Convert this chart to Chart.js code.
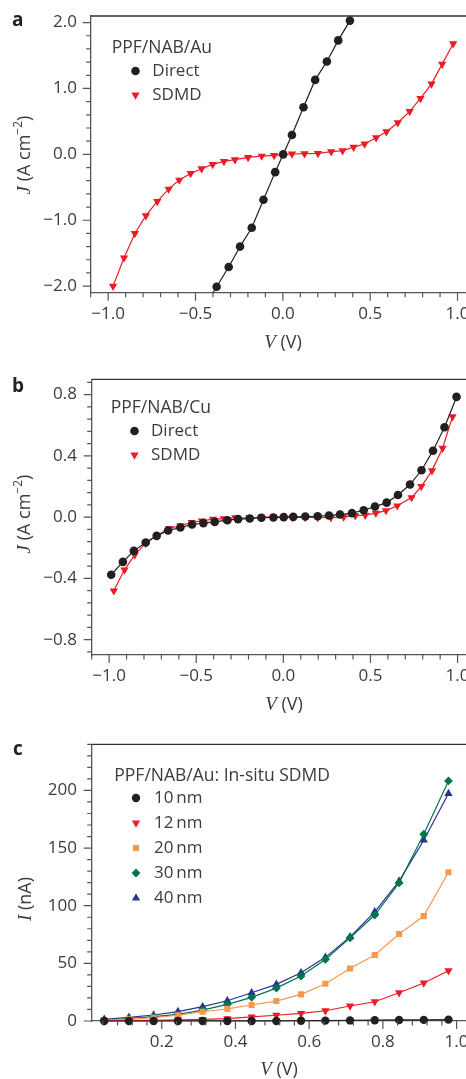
<!DOCTYPE html>
<html>
<head>
<meta charset="utf-8">
<script src="https://cdn.jsdelivr.net/npm/chart.js@4.4.0/dist/chart.umd.min.js"></script>
<style>
  html, body { margin:0; padding:0; background:#fff; overflow:hidden; width:466px; height:1079px; }
  .panel { position:absolute; left:0; width:480px; }
</style>
</head>
<body>
<div class="panel" style="top:0"><canvas id="chartA" width="480" height="360"></canvas></div>
<div class="panel" style="top:360px"><canvas id="chartB" width="480" height="360"></canvas></div>
<div class="panel" style="top:720px"><canvas id="chartC" width="480" height="359"></canvas></div>
<script>
// ── Panel a: PPF/NAB/Au ──
const aDirectV = [-0.445, -0.379, -0.31, -0.245, -0.178, -0.111, -0.044, 0.002, 0.052, 0.118, 0.185, 0.252, 0.317, 0.384];
const aDirectJ = [-2.30, -2.01, -1.71, -1.40, -1.115, -0.69, -0.27, 0.0, 0.293, 0.714, 1.13, 1.41, 1.73, 2.03];
const aSdmdV = [-0.972, -0.909, -0.847, -0.784, -0.719, -0.654, -0.593, -0.528, -0.465, -0.402, -0.337, -0.274, -0.199, -0.121, -0.050,
                0.052, 0.124, 0.201, 0.277, 0.342, 0.405, 0.468, 0.534, 0.593, 0.658, 0.726, 0.788, 0.851, 0.912, 0.975];
const aSdmdJ = [-2.00, -1.57, -1.20, -0.93, -0.715, -0.527, -0.39, -0.29, -0.218, -0.152, -0.106, -0.081, -0.046, -0.026, -0.015,
                0.005, 0.01, 0.015, 0.04, 0.055, 0.11, 0.157, 0.253, 0.344, 0.48, 0.653, 0.85, 1.07, 1.37, 1.68];
const aXTicks = [-1.0, -0.5, 0.0, 0.5, 1.0];
const aYTicks = [-2.0, -1.0, 0.0, 1.0, 2.0];

// ── Panel b: PPF/NAB/Cu ──
const bDirectV = [-0.988, -0.921, -0.858, -0.79, -0.727, -0.662, -0.591, -0.524, -0.459, -0.394, -0.321, -0.26, -0.193, -0.126, -0.057, 0.002,
                  0.057, 0.126, 0.197, 0.262, 0.325, 0.394, 0.461, 0.526, 0.593, 0.658, 0.727, 0.793, 0.859, 0.925, 0.994];
const bDirectJ = [-0.376, -0.292, -0.22, -0.166, -0.122, -0.087, -0.068, -0.048, -0.039, -0.031, -0.02, -0.013, -0.009, -0.004, -0.002, 0.0,
                  0.002, 0.004, 0.006, 0.011, 0.017, 0.026, 0.045, 0.069, 0.095, 0.145, 0.213, 0.306, 0.434, 0.587, 0.785];
const bSdmdV = [-0.973, -0.912, -0.853, -0.79, -0.727, -0.654, -0.591, -0.526, -0.467, -0.404, -0.341, -0.275, -0.195, -0.126, -0.057,
                0.053, 0.126, 0.197, 0.273, 0.346, 0.413, 0.47, 0.531, 0.589, 0.654, 0.736, 0.792, 0.853, 0.914, 0.971];
const bSdmdJ = [-0.481, -0.344, -0.246, -0.17, -0.12, -0.074, -0.055, -0.035, -0.024, -0.013, -0.009, -0.004, -0.004, 0.0, 0.002,
                -0.002, -0.002, -0.002, -0.004, 0.002, 0.009, 0.013, 0.026, 0.043, 0.074, 0.128, 0.2, 0.304, 0.45, 0.656];
const bXTicks = [-1.0, -0.5, 0.0, 0.5, 1.0];
const bYTicks = [-0.8, -0.4, 0.0, 0.4, 0.8];

// ── Panel c: PPF/NAB/Au in-situ SDMD ──
const cV    = [0.044, 0.111, 0.178, 0.244, 0.311, 0.378, 0.444, 0.511, 0.578, 0.644, 0.711, 0.778, 0.844, 0.911, 0.978];
const c10nm = [0, 0, 0, 0, 0, 0, 0, 0, 0.2, 0.3, 0.5, 0.7, 0.9, 1.0, 1.2];
const c12nm = [0.3, 0.4, 0.6, 0.9, 1.4, 2.0, 3.5, 5.0, 6.6, 8.9, 13, 16.7, 24.5, 33, 43.6];
const c20nm = [0.8, 1.6, 2.8, 5.0, 8.0, 10.5, 13.9, 17.3, 23.1, 32.3, 45.6, 57.2, 75.4, 91, 129];
const c30nm = [0.9, 2.0, 3.8, 5.8, 9.5, 14.4, 20.5, 28.5, 39, 53.4, 72.2, 91.9, 119.8, 162, 208.2];
const c40nm = [1.4, 3.2, 5.2, 8.1, 12.4, 17.6, 24.5, 31.8, 41.9, 55.2, 73, 94.7, 121.3, 156.8, 197.3];
const cXTicks = [0.2, 0.4, 0.6, 0.8, 1.0];
const cYTicks = [0, 50, 100, 150, 200];

const SANS = '"Open Sans", "Noto Sans", sans-serif';
const SERIF = '"Liberation Serif", "DejaVu Serif", serif';
const TXT = '#3c3c3c';
const AXIS = '#555';

const pts = (xs, ys) => xs.map((v, i) => ({ x: v, y: ys[i] }));
const minus = s => s.replace('-', '\u2212');
const fmt1 = v => minus(v.toFixed(1));
const fmt0 = v => minus(String(v));

function range(min, max, step){
  const out = [];
  for(let k = Math.ceil(min/step - 1e-6); k*step <= max + 1e-9; k++) out.push(+(k*step).toFixed(6));
  return out;
}

function series(label, data, color, style, radius, rot){
  return {
    label, data,
    borderColor: color, backgroundColor: color,
    borderWidth: 1.2,
    pointStyle: style, pointRadius: radius, pointRotation: rot || 0,
    pointBorderWidth: 0, pointHoverRadius: radius,
    tension: 0
  };
}

// ── Decorations: frame, minor/major ticks, axis titles, legend, panel letter ──
const decor = {
  id: 'decor',
  afterDraw(chart, args, o){
    const { ctx, chartArea: ca, scales: { x, y } } = chart;
    ctx.save();
    ctx.strokeStyle = '#333'; ctx.lineWidth = 1.3;
    ctx.beginPath();
    ctx.moveTo(ca.left, ca.top); ctx.lineTo(ca.right, ca.top); ctx.lineTo(ca.right, ca.bottom);
    ctx.stroke();

    ctx.strokeStyle = AXIS; ctx.lineWidth = 1.2;
    ctx.beginPath();
    range(x.min, x.max, o.xMinor).forEach(v => {
      const px = x.getPixelForValue(v);
      const len = o.xMajor.some(m => Math.abs(m - v) < 1e-6) ? 8 : 4.5;
      ctx.moveTo(px, ca.bottom); ctx.lineTo(px, ca.bottom + len);
    });
    range(y.min, y.max, o.yMinor).forEach(v => {
      const py = y.getPixelForValue(v);
      const len = o.yMajor.some(m => Math.abs(m - v) < 1e-6) ? 8 : 4.5;
      ctx.moveTo(ca.left, py); ctx.lineTo(ca.left - len, py);
    });
    ctx.stroke();

    // axis titles
    ctx.fillStyle = TXT;
    ctx.textBaseline = 'middle';
    const runs = (parts, cx, cy, rotate) => {
      ctx.save();
      ctx.translate(cx, cy);
      if(rotate) ctx.rotate(-Math.PI/2);
      let w = 0;
      parts.forEach(p => { ctx.font = p.f; w += ctx.measureText(p.t).width; });
      let cur = -w/2;
      ctx.textAlign = 'left';
      parts.forEach(p => { ctx.font = p.f; ctx.fillText(p.t, cur, p.dy || 0); cur += ctx.measureText(p.t).width; });
      ctx.restore();
    };
    runs(o.yTitle, o.yTitlePos[0], o.yTitlePos[1], true);
    runs([{ t:'V', f:'italic 19px ' + SERIF }, { t:' (V)', f:'18px ' + SANS }], o.xTitlePos[0], o.xTitlePos[1], false);

    // panel letter
    ctx.font = 'bold 19px ' + SANS;
    ctx.fillStyle = '#222';
    ctx.textAlign = 'left';
    ctx.fillText(o.letter, o.letterPos[0], o.letterPos[1]);

    // legend
    const L = o.legend;
    ctx.fillStyle = TXT;
    ctx.font = '17.5px ' + SANS;
    ctx.fillText(L.title, L.tx, L.ty);
    ctx.font = '17px ' + SANS;
    chart.data.datasets.forEach((ds, i) => {
      const yy = L.y0 + i * L.dy;
      ctx.fillStyle = ds.backgroundColor;
      Chart.helpers.drawPoint(ctx, { pointStyle: ds.pointStyle, radius: ds.pointRadius, rotation: ds.pointRotation, borderWidth: 0 }, L.mx, yy);
      ctx.fillStyle = TXT;
      ctx.fillText(ds.label, L.lx, yy);
    });
    ctx.restore();
  }
};

function makeChart(id, cfg){
  const H = document.getElementById(id).height;
  return new Chart(document.getElementById(id), {
    type: 'line',
    data: { datasets: cfg.datasets },
    options: {
      responsive: false,
      animation: false,
      layout: { padding: { top: cfg.top, right: 5, bottom: 0, left: 0 } },
      plugins: { legend: { display: false }, tooltip: { enabled: false }, decor: cfg.decor },
      scales: {
        x: {
          type: 'linear', min: cfg.xMin, max: cfg.xMax,
          afterBuildTicks: s => { s.ticks = cfg.xTicks.map(v => ({ value: v })); },
          afterFit: s => { s.height = H - cfg.bottom; },
          ticks: { callback: cfg.xFmt, font: { family: SANS, size: 17 }, color: TXT, padding: 3, autoSkip: false, maxRotation: 0 },
          grid: { color: 'transparent', drawOnChartArea: false, tickLength: 8 },
          border: { color: AXIS, width: 1.3 }
        },
        y: {
          type: 'linear', min: cfg.yMin, max: cfg.yMax,
          afterBuildTicks: s => { s.ticks = cfg.yTicks.map(v => ({ value: v })); },
          afterFit: s => { s.width = cfg.left; },
          ticks: { callback: cfg.yFmt, font: { family: SANS, size: 17 }, color: TXT, padding: cfg.left - 85, autoSkip: false },
          grid: { color: 'transparent', drawOnChartArea: false, tickLength: 8 },
          border: { color: AXIS, width: 1.3 }
        }
      }
    },
    plugins: [decor]
  });
}

const BLACK = '#231f20', RED = '#ec1c24', ORANGE = '#f7984f', GREEN = '#00744a', BLUE = '#2b3192';
const jTitle = [
  { t:'J', f:'italic 19px ' + SERIF },
  { t:' (A cm', f:'18px ' + SANS },
  { t:'\u22122', f:'12px ' + SANS, dy:-6 },
  { t:')', f:'18px ' + SANS }
];

makeChart('chartA', {
  top: 16, bottom: 292.7, left: 90.7,
  xMin: -1.1, xMax: 1.1, yMin: -2.1, yMax: 2.1,
  xTicks: aXTicks, yTicks: aYTicks, xFmt: fmt1, yFmt: fmt1,
  datasets: [
    series('Direct', pts(aDirectV, aDirectJ), BLACK, 'circle', 4.3),
    series('SDMD', pts(aSdmdV, aSdmdJ), RED, 'triangle', 4.8, 180)
  ],
  decor: {
    xMinor: 0.1, xMajor: aXTicks, yMinor: 0.2, yMajor: aYTicks,
    yTitle: jTitle, yTitlePos: [25, 155], xTitlePos: [283, 343],
    letter: 'a', letterPos: [12, 21],
    legend: { title: 'PPF/NAB/Au', tx: 111.7, ty: 48.3, mx: 135.5, lx: 152.3, y0: 71, dy: 24 }
  }
});

makeChart('chartB', {
  top: 19.3, bottom: 295, left: 91.7,
  xMin: -1.1, xMax: 1.1, yMin: -0.9, yMax: 0.9,
  xTicks: bXTicks, yTicks: bYTicks, xFmt: fmt1, yFmt: fmt1,
  datasets: [
    series('Direct', pts(bDirectV, bDirectJ), BLACK, 'circle', 4.3),
    series('SDMD', pts(bSdmdV, bSdmdJ), RED, 'triangle', 4.8, 180)
  ],
  decor: {
    xMinor: 0.1, xMajor: bXTicks, yMinor: 0.08, yMajor: bYTicks,
    yTitle: jTitle, yTitlePos: [25, 154], xTitlePos: [284, 345],
    letter: 'b', letterPos: [12, 27],
    legend: { title: 'PPF/NAB/Cu', tx: 110.7, ty: 48.3, mx: 134.5, lx: 151, y0: 71, dy: 24 }
  }
});

const cSets = [
  series('10\u2009nm', pts(cV, c10nm), BLACK, 'circle', 4.2),
  series('12\u2009nm', pts(cV, c12nm), RED, 'triangle', 4.8, 180),
  series('20\u2009nm', pts(cV, c20nm), ORANGE, 'rect', 4.3),
  series('30\u2009nm', pts(cV, c30nm), GREEN, 'rectRot', 4.4),
  series('40\u2009nm', pts(cV, c40nm), BLUE, 'triangle', 4.8)
];
cSets.forEach(ds => { ds.clip = 6; });

makeChart('chartC', {
  top: 24.3, bottom: 301, left: 91.7,
  xMin: 0.01, xMax: 1.05, yMin: 0, yMax: 240,
  xTicks: cXTicks, yTicks: cYTicks, xFmt: fmt1, yFmt: fmt0,
  datasets: cSets,
  decor: {
    xMinor: 0.04, xMajor: cXTicks, yMinor: 10, yMajor: cYTicks,
    yTitle: [{ t:'I', f:'italic 19px ' + SERIF }, { t:' (nA)', f:'18px ' + SANS }],
    yTitlePos: [26, 179], xTitlePos: [279, 350],
    letter: 'c', letterPos: [13, 30],
    legend: { title: 'PPF/NAB/Au: In-situ SDMD', tx: 114.3, ty: 55.7, mx: 136, lx: 154, y0: 78, dy: 25 }
  }
});
</script>
</body>
</html>
